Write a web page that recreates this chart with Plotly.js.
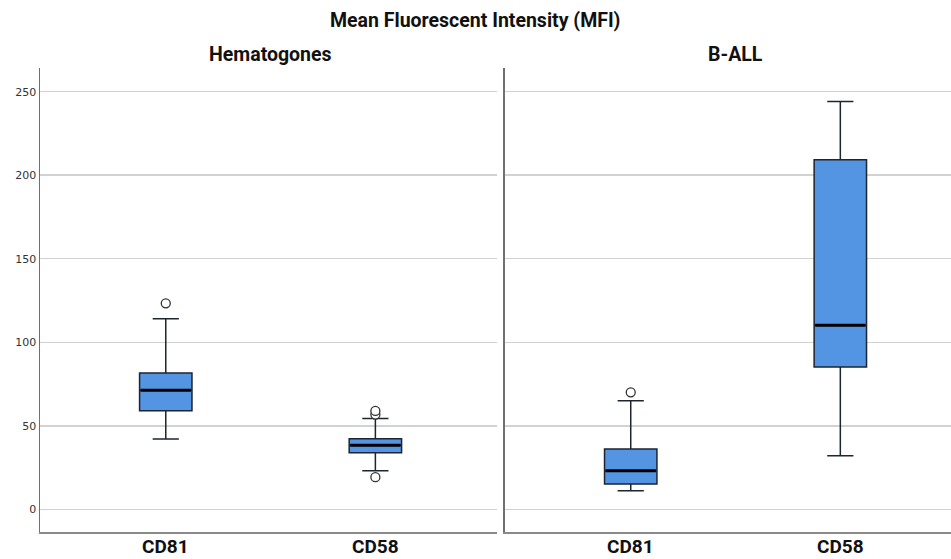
<!DOCTYPE html>
<html>
<head>
<meta charset="utf-8">
<script src="https://cdn.plot.ly/plotly-3.0.1.min.js"></script>
<style>
  html, body { margin: 0; padding: 0; background: #ffffff; }
  #chart { width: 951px; height: 559px; }
</style>
</head>
<body>
<div id="chart"></div>
<script>
// Marker categories shown in each panel
const markers = ["CD81", "CD58"];
const groups = ["Hematogones", "B-ALL"];

// Box statistics per group, in the order of `markers`
const hemaLowerFence = [42.1, 23.1];
const hemaQ1 = [59.0, 33.9];
const hemaMedian = [71.3, 38.3];
const hemaQ3 = [81.6, 42.3];
const hemaUpperFence = [114.1, 54.3];
const hemaOutliers = [[123.3], [19.2, 56.7, 58.9]];

const ballLowerFence = [11.1, 32.1];
const ballQ1 = [15.1, 85.2];
const ballMedian = [23.1, 110.2];
const ballQ3 = [36.1, 209.2];
const ballUpperFence = [65.0, 244.1];
const ballOutliers = [[70.0], []];

const yTicks = [0, 50, 100, 150, 200, 250];

const BOX_W = 0.25;
const FILL = "#5394e3";
const EDGE = "#1c2530";
const FONT_TITLE = "Roboto, Liberation Sans, sans-serif";

function panelTraces(xa, ya, lf, q1, med, q3, uf, outs) {
  const pos = markers.map((_, i) => i);
  const traces = [];
  traces.push({
    type: "box",
    x: pos,
    q1: q1, median: med, q3: q3,
    lowerfence: lf, upperfence: uf,
    width: BOX_W,
    whiskerwidth: 0.5,
    boxpoints: false,
    fillcolor: FILL,
    line: { color: EDGE, width: 1.5 },
    xaxis: xa, yaxis: ya,
    hoverinfo: "skip",
    showlegend: false
  });
  // heavy median bars
  pos.forEach((p, i) => {
    traces.push({
      type: "scatter", mode: "lines",
      x: [p - BOX_W / 2 + 0.005, p + BOX_W / 2 - 0.005],
      y: [med[i], med[i]],
      line: { color: "#000000", width: 3 },
      xaxis: xa, yaxis: ya,
      hoverinfo: "skip", showlegend: false
    });
  });
  // outlying cases
  const ox = [], oy = [];
  outs.forEach((arr, i) => arr.forEach(v => { ox.push(pos[i]); oy.push(v); }));
  traces.push({
    type: "scatter", mode: "markers",
    x: ox, y: oy,
    marker: { symbol: "circle", size: 9, color: "#ffffff", line: { color: "#333333", width: 1.3 } },
    xaxis: xa, yaxis: ya,
    hoverinfo: "skip", showlegend: false
  });
  return traces;
}

const data = [].concat(
  panelTraces("x", "y", hemaLowerFence, hemaQ1, hemaMedian, hemaQ3, hemaUpperFence, hemaOutliers),
  panelTraces("x2", "y2", ballLowerFence, ballQ1, ballMedian, ballQ3, ballUpperFence, ballOutliers)
);

const yBase = {
  range: [-13.6, 264.2],
  tickvals: yTicks,
  ticktext: yTicks.map(String),
  showgrid: true,
  gridcolor: "#d2d2d2",
  gridwidth: 1.5,
  zeroline: false,
  showline: true,
  linecolor: "#707070",
  linewidth: 1.5,
  ticks: "",
  fixedrange: true
};

const xBase = {
  tickvals: markers.map((_, i) => i),
  showticklabels: false,
  showgrid: false,
  zeroline: false,
  showline: true,
  linecolor: "#8a8a8a",
  linewidth: 2,
  ticks: "",
  fixedrange: true
};

const titleFont = { family: FONT_TITLE, size: 19.5, color: "#111111", weight: "bold" };

// category labels under each panel
const categoryLabels = [];
["x", "x2"].forEach(xa => {
  markers.forEach((m, i) => {
    categoryLabels.push({
      text: m, xref: xa, yref: "paper", x: i, y: 0, yshift: -27,
      xanchor: "center", yanchor: "bottom", showarrow: false, borderpad: 0,
      font: { family: FONT_TITLE, size: 19, color: "#111111", weight: "bold" }
    });
  });
});

const layout = {
  width: 951,
  height: 559,
  margin: { l: 40, r: 0, t: 68, b: 27 },
  paper_bgcolor: "#ffffff",
  plot_bgcolor: "#ffffff",
  showlegend: false,
  xaxis: Object.assign({}, xBase, { domain: [0, 0.5016], range: [-0.6, 1.58], anchor: "y" }),
  xaxis2: Object.assign({}, xBase, { domain: [0.5104, 1], range: [-0.6, 1.528], anchor: "y2" }),
  yaxis: Object.assign({}, yBase, {
    anchor: "x",
    showticklabels: true,
    tickfont: { family: "DejaVu Sans", size: 11, color: "#333333" }
  }),
  yaxis2: Object.assign({}, yBase, { anchor: "x2", showticklabels: false }),
  annotations: [
    {
      text: "Mean Fluorescent Intensity (MFI)",
      xref: "paper", yref: "paper", x: 0.478, y: 1, yshift: 48,
      xanchor: "center", yanchor: "middle", showarrow: false,
      font: titleFont
    },
    {
      text: groups[0],
      xref: "x domain", yref: "paper", x: 0.504, y: 1, yshift: 14,
      xanchor: "center", yanchor: "middle", showarrow: false,
      font: titleFont
    },
    {
      text: groups[1],
      xref: "x2 domain", yref: "paper", x: 0.517, y: 1, yshift: 14,
      xanchor: "center", yanchor: "middle", showarrow: false,
      font: titleFont
    }
  ].concat(categoryLabels)
};

Plotly.newPlot("chart", data, layout, { displayModeBar: false, staticPlot: true });
</script>
</body>
</html>
